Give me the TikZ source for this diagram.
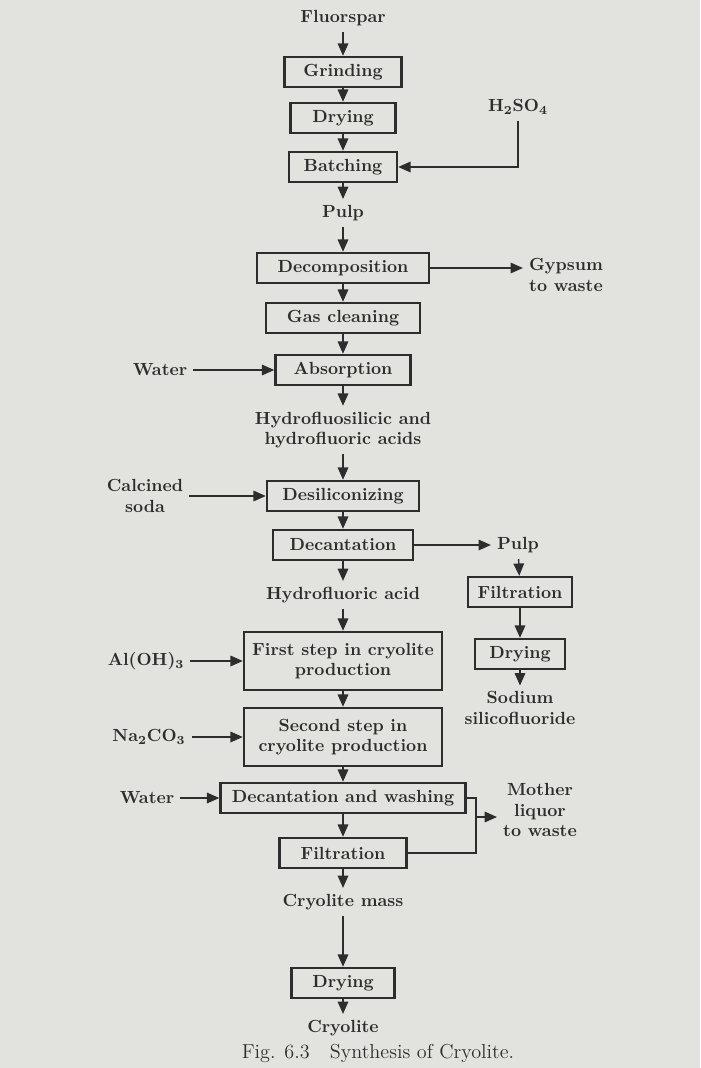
\documentclass[tikz,border=0pt]{standalone}
\usetikzlibrary{arrows.meta}
\definecolor{pagegray}{RGB}{226,226,222}
\definecolor{ink}{RGB}{45,45,45}
\begin{document}
\begin{tikzpicture}[x=0.02cm, y=-0.02cm,
    every node/.style={font=\fontsize{10}{11.5}\selectfont\bfseries, text=ink, align=center},
    stage/.style={draw=ink, line width=1.4pt, minimum height=0.6cm, inner sep=2pt},
    flow/.style={draw=ink, line width=0.8pt, -{Triangle[length=7pt,width=6pt]}},
    feed/.style={draw=ink, line width=0.8pt}]
    \fill[pagegray] (0,0) rectangle (700,1068);
    \useasboundingbox (0,0) rectangle (700,1068);
    % main column
    \node (fluorspar) at (343,18) {Fluorspar};
    \node[stage, minimum width=2.34cm] (grinding) at (343,72) {Grinding};
    \node[stage, minimum width=2.1cm] (drying) at (343,118) {Drying};
    \node[stage, minimum width=2.16cm] (batching) at (343,167) {Batching};
    \node (acid) at (518,107) {H\textsubscript{2}SO\textsubscript{4}};
    \node (pulp) at (343,213) {Pulp};
    \node[stage, minimum width=3.44cm] (decomp) at (343,268) {Decomposition};
    \node (gypsum) at (566,275) {Gypsum\\to waste};
    \node[stage, minimum width=3.08cm] (gascl) at (343,318) {Gas cleaning};
    \node[stage, minimum width=2.7cm] (absorb) at (343,370) {Absorption};
    \node (water) at (160,370) {Water};
    \node (acids) at (343,430) {Hydrofluosilicic and\\hydrofluoric acids};
    \node[stage, minimum width=3.04cm] (desil) at (343,496) {Desiliconizing};
    \node (soda) at (145,496) {Calcined\\soda};
    \node[stage, minimum width=2.8cm] (decant) at (343,545) {Decantation};
    \node (hfacid) at (343,595) {Hydrofluoric acid};
    \node[stage, minimum width=3.96cm, minimum height=1.16cm] (first) at (343,661) {First step in cryolite\\production};
    \node (aloh) at (146,661) {Al(OH)\textsubscript{3}};
    \node[stage, minimum width=3.96cm, minimum height=1.16cm] (second) at (343,737) {Second step in\\cryolite production};
    \node (naco) at (149,737) {Na\textsubscript{2}CO\textsubscript{3}};
    \node[stage, minimum width=4.9cm] (decwash) at (343,798) {Decantation and washing};
    \node (waterwash) at (147,798) {Water};
    \node[stage, minimum width=2.54cm] (filt) at (343,853) {Filtration};
    \node (mass) at (343,902) {Cryolite mass};
    \node[stage, minimum width=2.06cm] (drycry) at (343,983) {Drying};
    \node (cryolite) at (343,1028) {Cryolite};
    % side branch
    \node (pulpside) at (518,545) {Pulp};
    \node[stage, minimum width=2.08cm] (filtside) at (520,592) {Filtration};
    \node[stage, minimum width=1.8cm] (dryside) at (520,654) {Drying};
    \node (sodium) at (520,708) {Sodium\\silicofluoride};
    \node (mother) at (540,810) {Mother\\liquor\\to waste};
    \node[font=\fontsize{11.5}{13}\selectfont] (caption) at (378,1053) {Fig. 6.3\quad Synthesis of Cryolite.};
    % connectors
    \draw[flow] (fluorspar) -- (grinding);
    \draw[flow] (grinding) -- (drying);
    \draw[flow] (drying) -- (batching);
    \draw[flow] (acid.south) |- (batching.east);
    \draw[flow] (batching) -- (pulp);
    \draw[flow] (pulp) -- (decomp);
    \draw[flow] (decomp.east) -- (decomp.east -| gypsum.west);
    \draw[flow] (decomp) -- (gascl);
    \draw[flow] (gascl) -- (absorb);
    \draw[flow] (water) -- (absorb);
    \draw[flow] (absorb) -- (acids);
    \draw[flow] (acids) -- (desil);
    \draw[flow] (soda) -- (desil);
    \draw[flow] (desil) -- (decant);
    \draw[flow] (decant) -- (pulpside);
    \draw[flow] (decant) -- (hfacid);
    \draw[flow] (pulpside) -- (filtside);
    \draw[flow] (filtside) -- (dryside);
    \draw[flow] (dryside) -- (sodium);
    \draw[flow] (hfacid) -- (first);
    \draw[flow] (aloh) -- (first);
    \draw[flow] (first) -- (second);
    \draw[flow] (naco) -- (second);
    \draw[flow] (second) -- (decwash);
    \draw[flow] (waterwash) -- (decwash);
    \draw[flow] (decwash) -- (filt);
    \coordinate (mtop) at (476,798);
    \coordinate (mbot) at (476,853);
    \coordinate (mout) at (476,817);
    \draw[feed] (decwash.east) -- (mtop) -- (mbot) -- (filt.east);
    \draw[flow] (mout) -- (mout -| mother.west);
    \draw[flow] (filt) -- (mass);
    \draw[flow] (mass) -- (drycry);
    \draw[flow] (drycry) -- (cryolite);
\end{tikzpicture}
\end{document}
